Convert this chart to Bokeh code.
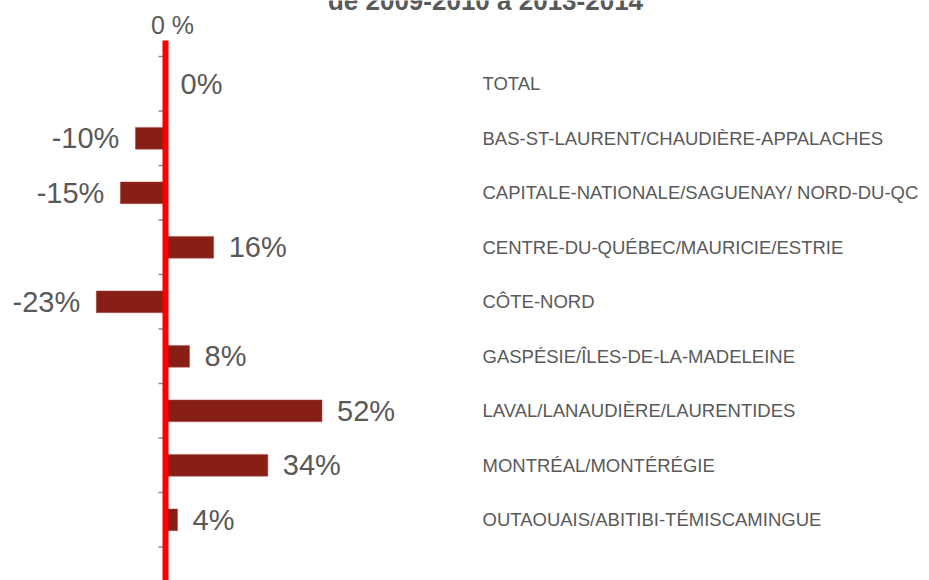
from bokeh.plotting import figure
from bokeh.models import Range1d, ColumnDataSource
from bokeh.core.properties import value
from bokeh.embed import file_html
from bokeh.resources import INLINE

# ---- data ----
categories = [
    "TOTAL",
    "BAS-ST-LAURENT/CHAUDIÈRE-APPALACHES",
    "CAPITALE-NATIONALE/SAGUENAY/ NORD-DU-QC",
    "CENTRE-DU-QUÉBEC/MAURICIE/ESTRIE",
    "CÔTE-NORD",
    "GASPÉSIE/ÎLES-DE-LA-MADELEINE",
    "LAVAL/LANAUDIÈRE/LAURENTIDES",
    "MONTRÉAL/MONTÉRÉGIE",
    "OUTAOUAIS/ABITIBI-TÉMISCAMINGUE",
]
values = [0, -10, -15, 16, -23, 8, 52, 34, 4]
value_labels = [f"{v}%" for v in values]
axis_label = "0 %"
title_text = "de 2009-2010 à 2013-2014"

# ---- layout ----
W, H = 929, 580
PX_PER_UNIT = 3.01       # px per percentage point
ZERO_PX = 165            # canvas x of 0
ROW_PX = 54.5            # px per category row
ROW0_PX = 83.3           # canvas y of first row centre

x_start = -ZERO_PX / PX_PER_UNIT
x_end = (W - ZERO_PX) / PX_PER_UNIT
y_top = -ROW0_PX / ROW_PX
y_bottom = (H - ROW0_PX) / ROW_PX

p = figure(width=W, height=H, output_backend="svg", toolbar_location=None,
           x_range=Range1d(x_start, x_end), y_range=Range1d(y_bottom, y_top),
           x_axis_type=None, y_axis_type=None, min_border=0,
           outline_line_color=None, background_fill_color="white",
           border_fill_color="white")
p.xgrid.visible = False
p.ygrid.visible = False

n = len(categories)
idx = list(range(n))
pos = [v >= 0 for v in values]

src = ColumnDataSource(dict(
    y=idx, v=values, lab=value_labels, cat=categories,
    zero=[0] * n,
))

# bars
p.hbar(y="y", left="zero", right="v", height=0.4, source=src,
       fill_color="#871F17", line_color="#A8544E", line_width=0.5)

# tick marks at category boundaries
bounds = [i - 0.5 for i in range(n + 1)]
p.segment(x0=[-7 / PX_PER_UNIT] * len(bounds), y0=bounds,
          x1=[0] * len(bounds), y1=bounds, line_color="#8C8C8C", line_width=1.5)

# red zero line
p.segment(x0=[0], y0=[-0.5 - 16 / ROW_PX], x1=[0], y1=[n + 1],
          line_color="#FF0000", line_width=6)

# value labels
pos_src = ColumnDataSource(dict(
    y=[i for i in idx if pos[i]], v=[values[i] for i in idx if pos[i]],
    lab=[value_labels[i] for i in idx if pos[i]]))
neg_src = ColumnDataSource(dict(
    y=[i for i in idx if not pos[i]], v=[values[i] for i in idx if not pos[i]],
    lab=[value_labels[i] for i in idx if not pos[i]]))

common = dict(text="lab", text_font=value("Liberation Sans"),
              text_font_size="29px", text_color="#595959",
              text_baseline="middle")
p.text(x="v", y="y", source=pos_src, x_offset=15, text_align="left", **common)
p.text(x="v", y="y", source=neg_src, x_offset=-16, text_align="right", **common)

# category labels
p.text(x=[(482 - ZERO_PX) / PX_PER_UNIT] * n, y=idx, text=categories,
       text_font=value("Liberation Sans"), text_font_size="18.5px",
       text_color="#595959", text_baseline="middle", text_align="left")

# "0 %" axis label
p.text(x=[0], y=[-0.5], text=[axis_label], x_offset=7, y_offset=-32,
       text_font=value("Liberation Sans"), text_font_size="25px",
       text_color="#595959", text_baseline="middle", text_align="center")

# title (partly cut at the top, as in the reference)
p.text(x=[(485 - ZERO_PX) / PX_PER_UNIT], y=[y_top], text=[title_text],
       y_offset=0, text_font=value("Liberation Sans"), text_font_style="bold",
       text_font_size="26px", text_color="#595959", text_baseline="alphabetic",
       text_align="center")

open("out.html", "w").write(file_html(p, INLINE))
